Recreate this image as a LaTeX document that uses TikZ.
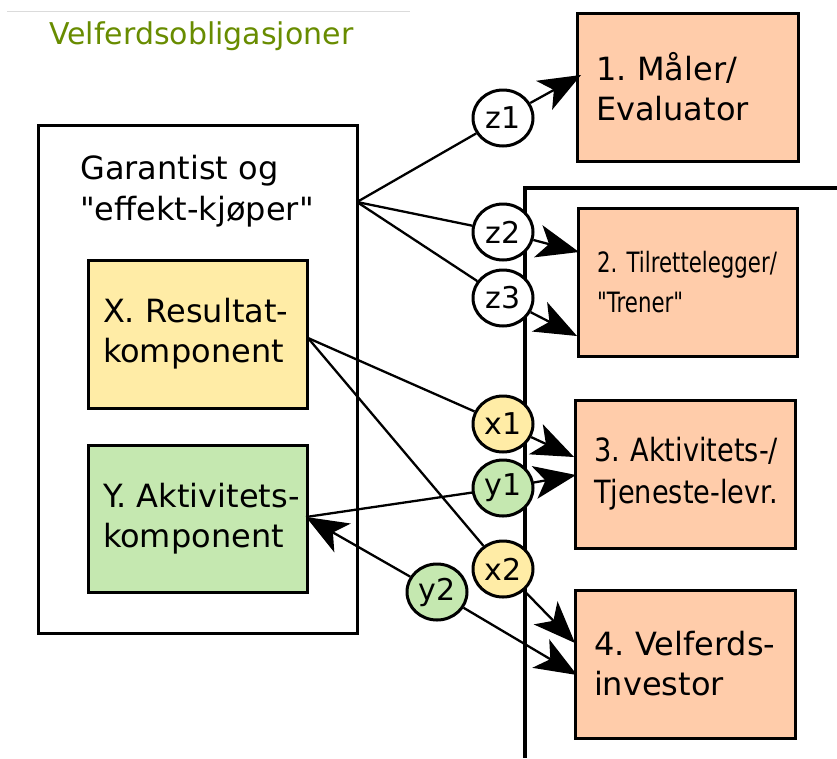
\documentclass[tikz,border=0pt]{standalone}
\usepackage{fontspec}
\setmainfont{DejaVu Sans}[Ligatures=TeXOff]
\newfontfamily\condfont{DejaVu Sans}[FakeStretch=0.85]
\newfontfamily\narrowfont{DejaVu Sans}[FakeStretch=0.76]
\usetikzlibrary{arrows.meta}
\usetikzlibrary{shapes.geometric}

\definecolor{peach}{RGB}{255,204,170}
\definecolor{paleyellow}{RGB}{255,236,166}
\definecolor{palegreen}{RGB}{197,232,176}
\definecolor{titlegreen}{RGB}{104,140,0}

\tikzset{
	box/.style={draw=black, line width=3pt, rectangle, inner xsep=19pt, inner ysep=0pt, align=left, font=\fontsize{32}{40}\selectfont, execute at begin node={\frenchspacing\hyphenpenalty=10000\exhyphenpenalty=10000}},
	actor/.style={box, fill=peach, minimum height=148pt},
	tag/.style={draw=black, line width=3pt, ellipse, minimum width=60pt, minimum height=56pt, inner sep=0pt, fill=white, font=\fontsize{30}{30}\selectfont},
	link/.style={line width=2.3pt},
	flow/.style={link, -{Stealth[length=42pt,width=33pt,inset=11pt]}},
}

\begin{document}
\begin{tikzpicture}[x=1pt,y=-1pt]
	\useasboundingbox (0,0) rectangle (837,758);

	%header
	\draw[black!14, line width=1pt] (7,11) -- (410,11);
	\node[anchor=base west, inner sep=0pt, text=titlegreen, font=\fontsize{30}{30}\selectfont] (title) at (49,44) {Velferdsobligasjoner};

	%guarantor with its two components
	\node[draw=black, line width=3pt, minimum width=319pt, minimum height=508pt, inner sep=0pt] (garbox) at (197.5,379) {};
	\node[anchor=north west, inner sep=0pt, align=left, font=\fontsize{32}{41}\selectfont] (buyer) at (80,155) {Garantist og\\"effekt-kjøper"};
	\node[box, fill=paleyellow, minimum width=219pt, minimum height=148pt, inner xsep=15pt, text width=189pt] (xbox) at (197.5,334) {\mbox{X. Resultat-}\\komponent};
	\node[box, fill=palegreen, minimum width=219pt, minimum height=147pt, inner xsep=15pt, text width=189pt] (ybox) at (197.5,518.5) {\mbox{Y. Aktivitets-}\\komponent};

	%open frame round the delivery side
	\coordinate (frameEnd) at (837,188);
	\coordinate (frameCorner) at (525,188);
	\coordinate (frameFoot) at (525,758);
	\draw[line width=3.3pt] (frameEnd) -- (frameCorner) -- (frameFoot);

	%actors on the right
	\node[actor, minimum width=221pt, text width=183pt] (box1) at (687.5,87) {1. Måler/\\Evaluator};
	\node[actor, minimum width=219pt, text width=181pt, font=\narrowfont\fontsize{28}{40}\selectfont] (box2) at (687.5,282) {\mbox{2. Tilrettelegger/}\\"Trener"};
	\node[actor, minimum width=220pt, text width=182pt, font=\condfont\fontsize{32}{42}\selectfont] (box3) at (685,474) {\mbox{3. Aktivitets-/}\\\mbox{Tjeneste-levr.}};
	\node[actor, minimum width=220pt, text width=182pt] (box4) at (685,664) {\mbox{4. Velferds-}\\investor};

	%contract tags
	\node[tag] (z1) at (503,118) {z1};
	\node[tag] (z2) at (503,232) {z2};
	\node[tag] (z3) at (503,298) {z3};
	\node[tag, fill=paleyellow] (x1) at (503,424) {x1};
	\node[tag, fill=palegreen] (y1) at (503,488) {y1};
	\node[tag, fill=paleyellow] (x2) at (503,569) {x2};
	\node[tag, fill=palegreen] (y2) at (437,592) {y2};

	%end points on the box borders
	\coordinate (hub) at (357,202);
	\coordinate (xout) at (308,338);
	\coordinate (yin) at (306,517);
	\coordinate (tip1) at (581,75);
	\coordinate (tip2a) at (579,252);
	\coordinate (tip2b) at (577,336);
	\coordinate (tip3a) at (574,457);
	\coordinate (tip3b) at (576,475);
	\coordinate (tip4a) at (575,643);
	\coordinate (tip4b) at (577,675);

	%z-contracts
	\draw[link] (hub) -- (z1);
	\draw[link] (hub) -- (z2);
	\draw[link] (hub) -- (z3);
	\draw[flow] (z1) -- (tip1);
	\draw[flow] (z2) -- (tip2a);
	\draw[flow] (z3) -- (tip2b);

	%x-contracts
	\draw[link] (xout) -- (x1);
	\draw[link] (xout) -- (x2);
	\draw[flow] (x1) -- (tip3a);
	\draw[flow] (x2) -- (tip4a);

	%y-contracts
	\draw[flow] (y1) -- (tip3b);
	\draw[link] (y1) -- (yin);
	\draw[flow] (y2) -- (yin);
	\draw[flow] (y2) -- (tip4b);

\end{tikzpicture}
\end{document}
